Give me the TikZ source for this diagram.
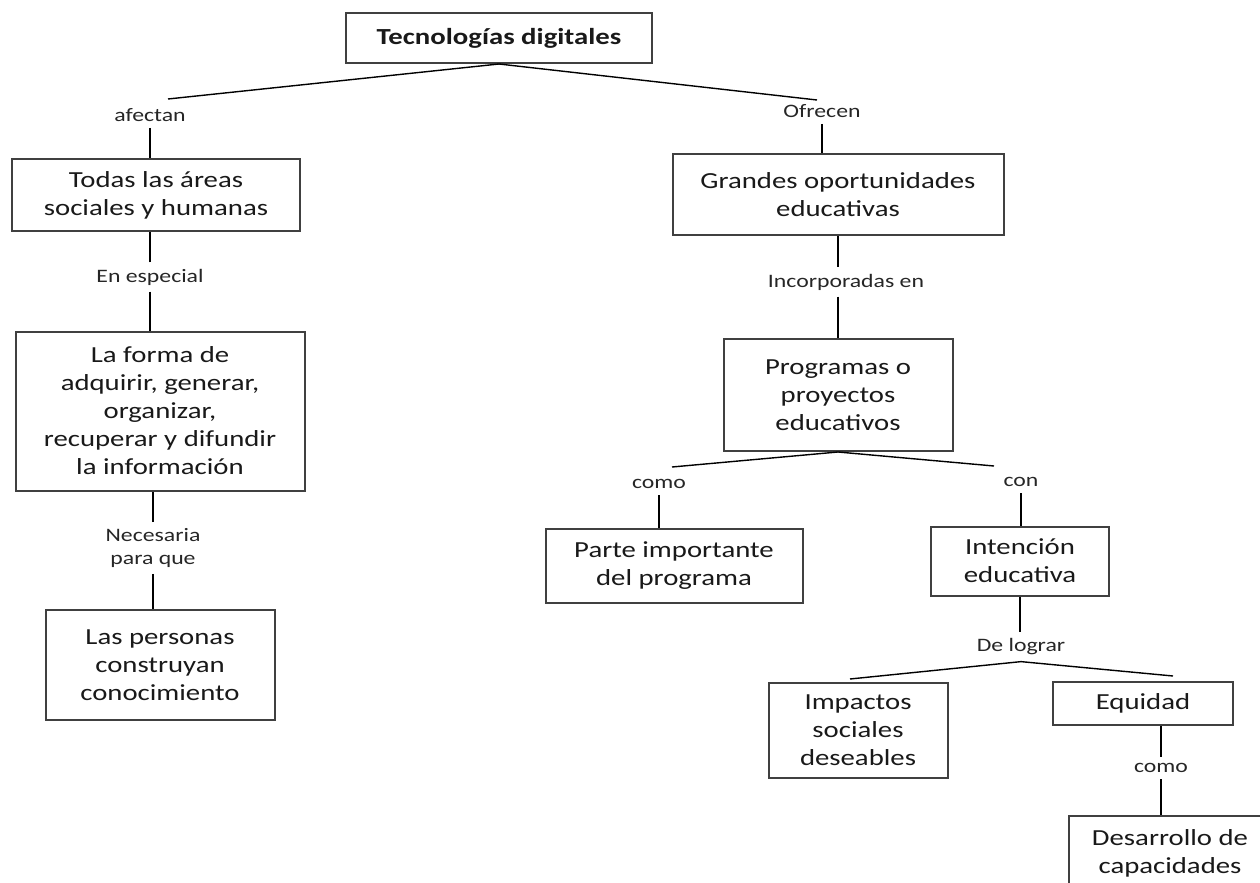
\documentclass[tikz,border=0pt]{standalone}
\usepackage{fontspec}
\setmainfont{Carlito}[FakeStretch=1.25]

\begin{document}
\begin{tikzpicture}[x=0.5pt,y=-0.5pt,
    caja/.style={draw=black!75, line width=1pt, align=center, inner sep=0pt,
      text=black!90, font=\fontsize{11.5}{14}\selectfont},
    rotulo/.style={align=center, inner sep=3pt, text=black!85,
      font=\fontsize{9.5}{11.5}\selectfont},
    enlace/.style={line width=0.7pt}]
  \useasboundingbox (0,0) rectangle (1260,883); \clip (0,0) rectangle (1260,883);
  \node [caja, minimum width=153pt, minimum height=25pt,
    font=\fontsize{11.5}{14}\selectfont\bfseries] (tec) at (499,38)
  {Tecnologías digitales}; \node [caja, minimum width=144pt, minimum
    height=36pt] (todas) at (156,195) {Todas las áreas\\sociales y
    humanas}; \node [caja, minimum width=144.5pt, minimum height=79.5pt]
  (forma) at (160,411) {La forma de\\adquirir, generar,\\organizar,\\recuperar
    y difundir\\la información}; \node [caja, minimum width=114.5pt,
    minimum height=55pt] (personas) at (160,665) {Las
    personas\\construyan\\conocimiento}; \node [caja, minimum
    width=165.5pt, minimum height=40.5pt] (grandes) at (838,195) {Grandes
    oportunidades\\educativas}; \node [caja, minimum width=114.5pt,
    minimum height=56pt] (prog) at (838,395) {Programas
    o\\proyectos\\educativos}; \node [caja, minimum width=128.5pt, minimum
    height=37pt] (parte) at (674,566) {Parte importante\\del programa};
  \node [caja, minimum width=89pt, minimum height=34.5pt] (inten) at
  (1020,561) {Intención\\educativa}; \node [caja, minimum width=89.5pt,
    minimum height=47.5pt] (impac) at (858,730)
  {Impactos\\sociales\\deseables}; \node [caja, minimum width=90pt,
    minimum height=21.5pt] (equi) at (1143,703) {Equidad}; \node [caja,
    minimum width=101pt, minimum height=37pt] (desa) at (1170,853)
  {Desarrollo de\\capacidades};
  \node [rotulo] (afectan) at (150,115) {afectan}; \node [rotulo]
  (ofrecen) at (822,111) {Ofrecen}; \node [rotulo] (especial) at
  (150,277) {En especial}; \node [rotulo] (incorp) at (846,282)
  {Incorporadas en}; \node [rotulo] (necesaria) at (153,548)
  {Necesaria\\para que}; \node [rotulo] (como) at (659,484) {como};
  \node [rotulo] (con) at (1021,482) {con}; \node [rotulo] (lograr) at
  (1021,647) {De lograr}; \node [rotulo] (comob) at (1161,768) {como};
  \coordinate (ta) at (168,99); \coordinate (tb) at (817,100);
  \coordinate (pa) at (672,467); \coordinate (pb) at (994,466);
  \coordinate (la) at (850,679); \coordinate (lb) at (1173,676);
  \draw [enlace] (tec.south) -- (ta); \draw [enlace] (tec.south) --
  (tb); \draw [enlace] (afectan.south) -- (afectan.south |-
  todas.north); \draw [enlace] (ofrecen.south) -- (ofrecen.south |-
  grandes.north); \draw [enlace] (especial.north) -- (especial.north |-
  todas.south); \draw [enlace] (especial.south) -- (especial.south |-
  forma.north); \draw [enlace] (necesaria.north) -- (necesaria.north |-
  forma.south); \draw [enlace] (necesaria.south) -- (necesaria.south |-
  personas.north); \draw [enlace] (grandes.south) -- (grandes.south |-
  incorp.north); \draw [enlace] (incorp.south -| prog.north) --
  (prog.north); \draw [enlace] (prog.south) -- (pa); \draw [enlace]
  (prog.south) -- (pb); \draw [enlace] (como.south) -- (como.south |-
  parte.north); \draw [enlace] (con.south) -- (con.south |-
  inten.north); \draw [enlace] (inten.south) -- (inten.south |-
  lograr.north); \draw [enlace] (lograr.south) -- (la); \draw [enlace]
  (lograr.south) -- (lb); \draw [enlace] (comob.north) -- (comob.north
  |- equi.south); \draw [enlace] (comob.south) -- (comob.south |-
  desa.north);
\end{tikzpicture}
\end{document}
